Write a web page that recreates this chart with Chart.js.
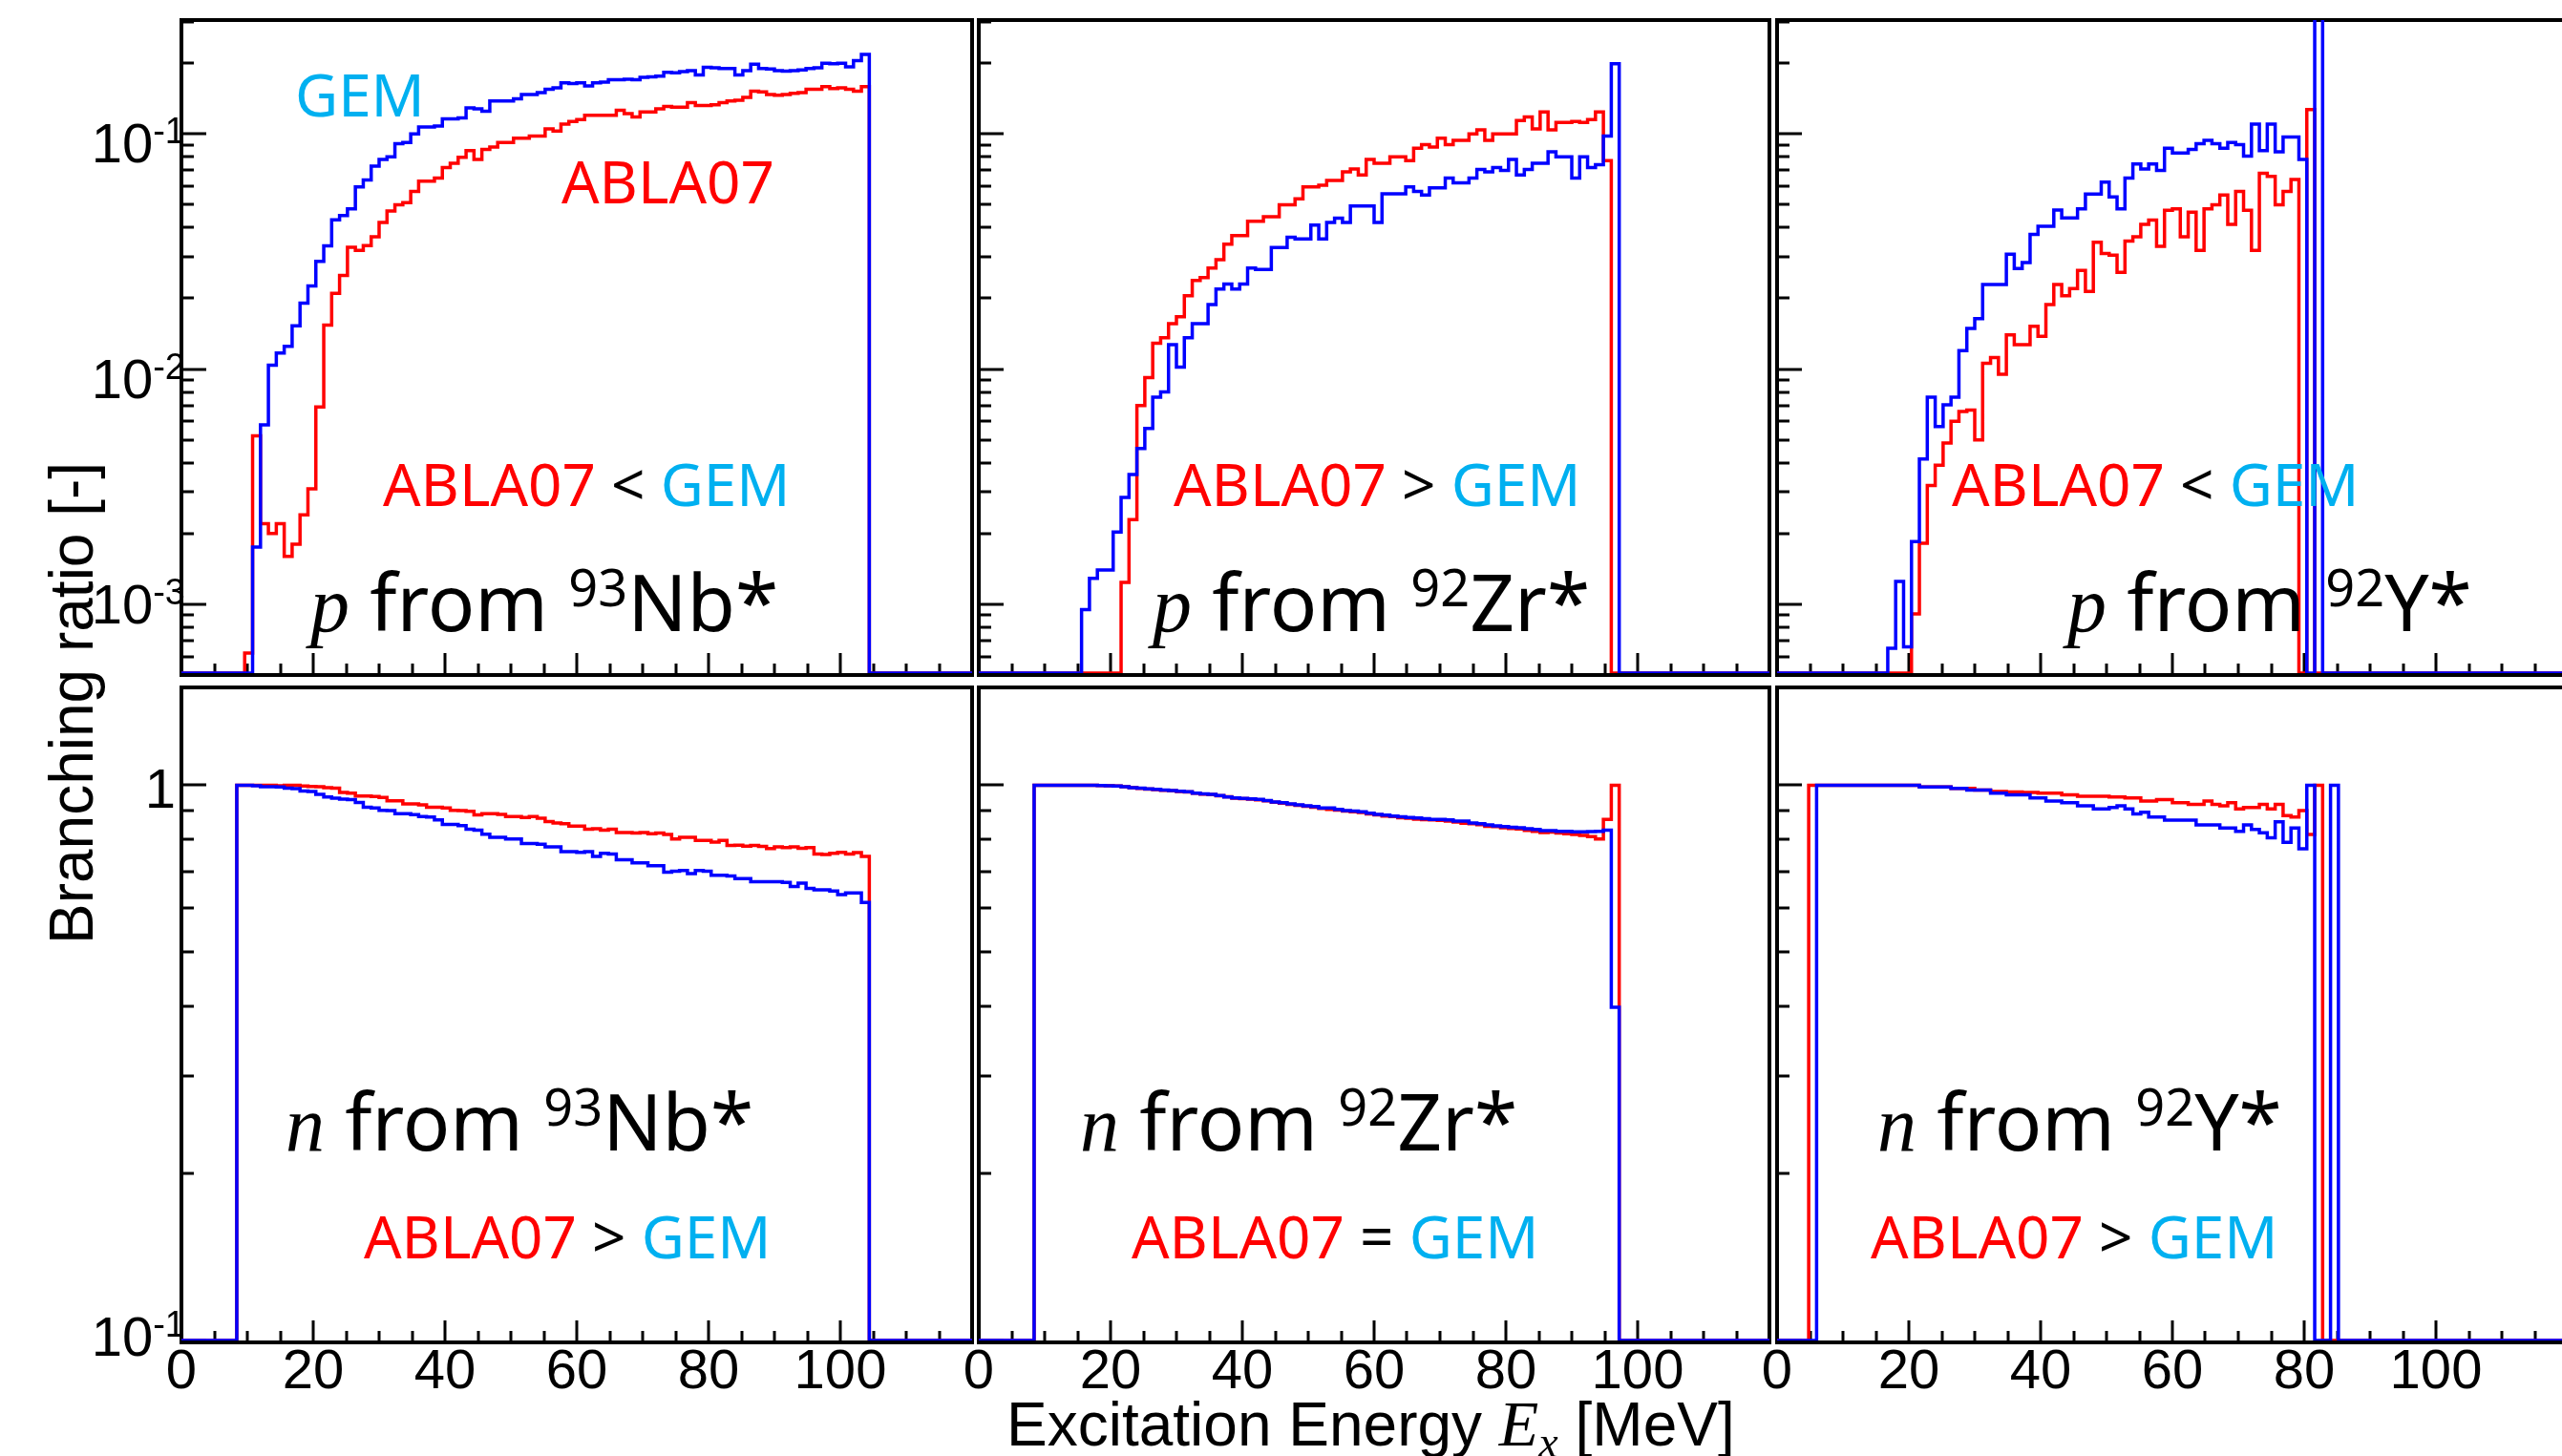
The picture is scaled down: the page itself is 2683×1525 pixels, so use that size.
<!DOCTYPE html>
<html>
<head>
<meta charset="utf-8">
<script src="https://cdn.jsdelivr.net/npm/chart.js@4.4.1/dist/chart.umd.min.js"></script>
<style>
  html, body { margin: 0; padding: 0; background: #fff; }
  #page { position: relative; width: 2683px; height: 1525px; overflow: hidden; background: #fff; }
  #page canvas { position: absolute; }
  #labels { position: absolute; left: 0; top: 0; }
  #labels text { white-space: pre; }
  .ann { font-family: "Noto Sans", "Open Sans", sans-serif; font-size: 62px; }
  .tag { font-family: "Noto Sans", "Open Sans", sans-serif; font-size: 82px; fill: #000; }
  .it { font-family: "Liberation Serif", "DejaVu Serif", serif; font-style: italic; }
  .axis { font-family: "Liberation Sans", Arial, sans-serif; font-size: 64px; fill: #000; }
  .red { fill: #ff0000; }
  .cyan { fill: #00b0f0; }
  .blk { fill: #000; }
</style>
</head>
<body>
<div id="page">
  <canvas id="pNb"></canvas>
  <canvas id="pZr"></canvas>
  <canvas id="pY"></canvas>
  <canvas id="nNb"></canvas>
  <canvas id="nZr"></canvas>
  <canvas id="nY"></canvas>

  <svg id="labels" width="2683" height="1525" xmlns="http://www.w3.org/2000/svg">
    <!-- top row: protons -->
    <text class="ann cyan" x="309" y="122">GEM</text>
    <text class="ann red" x="588" y="213">ABLA07</text>
    <text class="ann" x="401" y="530"><tspan class="red">ABLA07</tspan><tspan class="blk"> &lt; </tspan><tspan class="cyan">GEM</tspan></text>
    <text class="tag" x="325" y="661"><tspan class="it">p</tspan> from <tspan font-size="54" dy="-26">93</tspan><tspan dy="26">Nb*</tspan></text>

    <text class="ann" x="1229" y="530"><tspan class="red">ABLA07</tspan><tspan class="blk"> &gt; </tspan><tspan class="cyan">GEM</tspan></text>
    <text class="tag" x="1207" y="661"><tspan class="it">p</tspan> from <tspan font-size="54" dy="-26">92</tspan><tspan dy="26">Zr*</tspan></text>

    <text class="ann" x="2044" y="530"><tspan class="red">ABLA07</tspan><tspan class="blk"> &lt; </tspan><tspan class="cyan">GEM</tspan></text>
    <text class="tag" x="2165" y="661"><tspan class="it">p</tspan> from <tspan font-size="54" dy="-26">92</tspan><tspan dy="26">Y*</tspan></text>

    <!-- bottom row: neutrons -->
    <text class="tag" x="299" y="1205"><tspan class="it">n</tspan> from <tspan font-size="54" dy="-26">93</tspan><tspan dy="26">Nb*</tspan></text>
    <text class="ann" x="381" y="1318"><tspan class="red">ABLA07</tspan><tspan class="blk"> &gt; </tspan><tspan class="cyan">GEM</tspan></text>

    <text class="tag" x="1131" y="1205"><tspan class="it">n</tspan> from <tspan font-size="54" dy="-26">92</tspan><tspan dy="26">Zr*</tspan></text>
    <text class="ann" x="1185" y="1318"><tspan class="red">ABLA07</tspan><tspan class="blk"> = </tspan><tspan class="cyan">GEM</tspan></text>

    <text class="tag" x="1966" y="1205"><tspan class="it">n</tspan> from <tspan font-size="54" dy="-26">92</tspan><tspan dy="26">Y*</tspan></text>
    <text class="ann" x="1959" y="1318"><tspan class="red">ABLA07</tspan><tspan class="blk"> &gt; </tspan><tspan class="cyan">GEM</tspan></text>

    <!-- axis titles -->
    <text class="axis" x="1054" y="1514">Excitation Energy <tspan class="it" font-size="68">E</tspan><tspan class="it" font-size="46" dy="12">x</tspan><tspan dy="-12"> [MeV]</tspan></text>
    <text class="axis" transform="translate(97 989) rotate(-90)">Branching ratio [-]</text>
  </svg>
</div>

<script>
// histogram binning (MeV)
const BIN = 1.2;
const E_MIN = 0, E_MAX = 120;

// tick labels
const xTickLabels = [0, 20, 40, 60, 80, 100];
const pYTicks = [0.1, 0.01, 0.001];
const nYTicks = [1, 0.1];

// y ranges of the two rows
const pRange = [5.1e-4, 0.305];
const nRange = [0.1, 1.5];

// ---- p from 93Nb* ----
const pNbAblaStart = 9.6;
const pNbAbla = [
  6.2e-4, 5.2e-3, 2.2e-3, 2.0e-3, 2.2e-3, 1.6e-3, 1.8e-3, 2.4e-3, 3.1e-3, 6.9e-3,
  1.54e-2, 2.1e-2, 2.5e-2, 3.3e-2, 3.2e-2, 3.35e-2, 3.65e-2, 4.2e-2, 4.7e-2, 5.0e-2,
  5.1e-2, 5.7e-2, 6.3e-2, 6.3e-2, 6.5e-2, 7.2e-2, 7.5e-2, 7.95e-2, 8.5e-2, 7.8e-2,
  8.6e-2, 8.8e-2, 9.2e-2, 9.2e-2, 9.6e-2, 9.6e-2, 9.8e-2, 9.8e-2, 0.105, 0.103,
  0.110, 0.113, 0.115, 0.120, 0.120, 0.120, 0.120, 0.126, 0.122, 0.118,
  0.124, 0.124, 0.128, 0.131, 0.130, 0.130, 0.136, 0.132, 0.132, 0.133,
  0.136, 0.138, 0.139, 0.143, 0.152, 0.151, 0.147, 0.146, 0.147, 0.149,
  0.150, 0.155, 0.155, 0.159, 0.156, 0.157, 0.155, 0.152, 0.159
];
const pNbGemStart = 10.8;
const pNbGem = [
  1.75e-3, 5.8e-3, 1.04e-2, 1.17e-2, 1.25e-2, 1.53e-2, 1.91e-2, 2.26e-2, 2.87e-2, 3.34e-2,
  4.31e-2, 4.5e-2, 4.8e-2, 5.96e-2, 6.38e-2, 7.3e-2, 7.8e-2, 8.0e-2, 9.1e-2, 9.2e-2,
  0.100, 0.107, 0.107, 0.108, 0.116, 0.116, 0.117, 0.129, 0.128, 0.125,
  0.138, 0.138, 0.138, 0.141, 0.147, 0.147, 0.150, 0.155, 0.157, 0.165,
  0.164, 0.165, 0.160, 0.165, 0.166, 0.170, 0.170, 0.171, 0.170, 0.174,
  0.175, 0.176, 0.183, 0.182, 0.184, 0.186, 0.178, 0.192, 0.191, 0.190,
  0.190, 0.178, 0.186, 0.198, 0.190, 0.189, 0.186, 0.185, 0.186, 0.187,
  0.190, 0.191, 0.200, 0.199, 0.200, 0.193, 0.205, 0.218
];

// ---- p from 92Zr* ----
const pZrAblaStart = 21.6;
const pZrAbla = [
  1.24e-3, 2.29e-3, 7.0e-3, 9.2e-3, 1.29e-2, 1.36e-2, 1.56e-2, 1.67e-2, 2.05e-2, 2.38e-2,
  2.45e-2, 2.69e-2, 2.92e-2, 3.4e-2, 3.7e-2, 3.7e-2, 4.25e-2, 4.25e-2, 4.45e-2, 4.45e-2,
  5.0e-2, 5.0e-2, 5.3e-2, 5.96e-2, 5.96e-2, 6.05e-2, 6.35e-2, 6.35e-2, 6.9e-2, 7.1e-2,
  6.7e-2, 7.8e-2, 7.5e-2, 7.5e-2, 8.0e-2, 8.0e-2, 7.7e-2, 8.7e-2, 9.0e-2, 8.8e-2,
  9.6e-2, 9.0e-2, 9.4e-2, 9.4e-2, 0.100, 0.104, 0.094, 0.100, 0.100, 0.100,
  0.114, 0.118, 0.105, 0.124, 0.104, 0.112, 0.112, 0.113, 0.112, 0.115,
  0.124, 0.077
];
const pZrGemStart = 15.6;
const pZrGem = [
  9.5e-4, 1.29e-3, 1.40e-3, 1.40e-3, 2.03e-3, 2.85e-3, 3.56e-3, 4.6e-3, 5.6e-3, 7.6e-3,
  8.0e-3, 1.27e-2, 1.02e-2, 1.36e-2, 1.56e-2, 1.56e-2, 1.88e-2, 2.19e-2, 2.3e-2, 2.19e-2,
  2.3e-2, 2.69e-2, 2.65e-2, 2.65e-2, 3.29e-2, 3.29e-2, 3.64e-2, 3.58e-2, 3.58e-2, 4.1e-2,
  3.58e-2, 4.2e-2, 4.38e-2, 4.2e-2, 4.94e-2, 4.94e-2, 4.94e-2, 4.2e-2, 5.57e-2, 5.57e-2,
  5.57e-2, 5.96e-2, 5.7e-2, 5.5e-2, 5.9e-2, 5.9e-2, 6.5e-2, 6.2e-2, 6.2e-2, 6.5e-2,
  7.06e-2, 6.9e-2, 7.2e-2, 7.0e-2, 7.8e-2, 6.7e-2, 7.06e-2, 7.5e-2, 7.5e-2, 8.4e-2,
  8.0e-2, 8.0e-2, 6.5e-2, 8.0e-2, 7.2e-2, 7.4e-2, 9.8e-2, 0.199
];

// ---- p from 92Y* ----
const pYAblaStart = 20.4;
const pYAbla = [
  9.1e-4, 1.82e-3, 3.2e-3, 3.9e-3, 4.85e-3, 6.0e-3, 6.6e-3, 6.7e-3, 5.0e-3, 1.06e-2,
  1.12e-2, 9.5e-3, 1.4e-2, 1.27e-2, 1.27e-2, 1.52e-2, 1.38e-2, 1.88e-2, 2.29e-2, 2.05e-2,
  2.2e-2, 2.63e-2, 2.14e-2, 3.46e-2, 3.1e-2, 3.05e-2, 2.58e-2, 3.5e-2, 3.65e-2, 4.13e-2,
  4.3e-2, 3.33e-2, 4.74e-2, 4.8e-2, 3.65e-2, 4.65e-2, 3.2e-2, 4.8e-2, 5.0e-2, 5.5e-2,
  4.13e-2, 5.7e-2, 4.74e-2, 3.2e-2, 6.8e-2, 6.6e-2, 5.0e-2, 5.7e-2, 6.4e-2, 0,
  0.127
];
const pYGemStart = 16.8;
const pYGem = [
  6.5e-4, 1.25e-3, 6.6e-4, 1.85e-3, 4.15e-3, 7.6e-3, 5.7e-3, 7.05e-3, 7.6e-3, 1.2e-2,
  1.49e-2, 1.64e-2, 2.29e-2, 2.29e-2, 2.29e-2, 3.08e-2, 2.68e-2, 2.84e-2, 3.74e-2, 4.05e-2,
  4.05e-2, 4.75e-2, 4.4e-2, 4.4e-2, 4.8e-2, 5.55e-2, 5.55e-2, 6.24e-2, 5.4e-2, 4.8e-2,
  6.5e-2, 7.45e-2, 7.1e-2, 7.45e-2, 7.0e-2, 8.7e-2, 8.3e-2, 8.3e-2, 8.6e-2, 9.1e-2,
  9.4e-2, 9.1e-2, 8.7e-2, 9.2e-2, 9.0e-2, 8.05e-2, 0.110, 8.5e-2, 0.110, 8.4e-2,
  9.7e-2, 9.7e-2, 7.8e-2, 0, 1
];

// ---- n from 93Nb* ----
const nNbAblaStart = 8.4;
const nNbAbla = [
  1.0, 1.0, 1.0, 1.0, 1.0, 0.998, 1.0, 1.0, 0.997, 0.995,
  0.994, 0.990, 0.988, 0.970, 0.968, 0.956, 0.956, 0.954, 0.950, 0.937,
  0.937, 0.925, 0.925, 0.922, 0.913, 0.913, 0.910, 0.901, 0.900, 0.897,
  0.884, 0.889, 0.889, 0.886, 0.878, 0.878, 0.875, 0.878, 0.872, 0.860,
  0.855, 0.852, 0.844, 0.844, 0.833, 0.835, 0.830, 0.833, 0.822, 0.822,
  0.820, 0.822, 0.818, 0.820, 0.815, 0.800, 0.806, 0.806, 0.795, 0.795,
  0.790, 0.795, 0.779, 0.780, 0.777, 0.779, 0.776, 0.769, 0.774, 0.772,
  0.774, 0.770, 0.772, 0.752, 0.750, 0.754, 0.757, 0.752, 0.756, 0.744
];
const nNbGemStart = 8.4;
const nNbGem = [
  1.0, 1.0, 0.998, 0.994, 0.994, 0.993, 0.988, 0.986, 0.976, 0.974,
  0.963, 0.952, 0.948, 0.944, 0.942, 0.931, 0.913, 0.910, 0.901, 0.900,
  0.889, 0.889, 0.885, 0.878, 0.876, 0.866, 0.850, 0.850, 0.846, 0.833,
  0.830, 0.816, 0.806, 0.806, 0.800, 0.800, 0.785, 0.785, 0.783, 0.774,
  0.774, 0.759, 0.759, 0.757, 0.759, 0.744, 0.754, 0.752, 0.734, 0.734,
  0.725, 0.725, 0.716, 0.716, 0.697, 0.700, 0.702, 0.693, 0.702, 0.700,
  0.688, 0.688, 0.686, 0.679, 0.679, 0.670, 0.670, 0.670, 0.670, 0.668,
  0.657, 0.666, 0.652, 0.648, 0.648, 0.645, 0.635, 0.640, 0.640, 0.615
];

// ---- n from 92Zr* ----
const nZrAblaStart = 8.4;
const nZrAbla = [
  1.0, 1.0, 1.0, 1.0, 1.0, 1.0, 1.0, 1.0, 0.999, 0.998,
  0.997, 0.994, 0.990, 0.987, 0.984, 0.982, 0.979, 0.977, 0.974, 0.972,
  0.968, 0.964, 0.962, 0.957, 0.953, 0.948, 0.946, 0.944, 0.941, 0.937,
  0.932, 0.928, 0.924, 0.920, 0.916, 0.913, 0.908, 0.905, 0.902, 0.898,
  0.896, 0.893, 0.888, 0.884, 0.880, 0.878, 0.874, 0.872, 0.869, 0.867,
  0.866, 0.864, 0.862, 0.858, 0.854, 0.852, 0.849, 0.843, 0.842, 0.838,
  0.836, 0.834, 0.829, 0.826, 0.822, 0.823, 0.820, 0.818, 0.815, 0.812,
  0.808, 0.800, 0.868, 1.0
];
const nZrGemStart = 8.4;
const nZrGem = [
  1.0, 1.0, 1.0, 1.0, 1.0, 1.0, 1.0, 1.0, 0.999, 0.998,
  0.997, 0.994, 0.990, 0.988, 0.985, 0.983, 0.980, 0.978, 0.975, 0.973,
  0.968, 0.965, 0.963, 0.958, 0.952, 0.949, 0.947, 0.945, 0.943, 0.938,
  0.933, 0.930, 0.925, 0.922, 0.918, 0.915, 0.910, 0.910, 0.905, 0.900,
  0.898, 0.896, 0.890, 0.886, 0.883, 0.880, 0.877, 0.875, 0.873, 0.870,
  0.868, 0.868, 0.866, 0.862, 0.862, 0.855, 0.852, 0.848, 0.845, 0.842,
  0.840, 0.838, 0.835, 0.832, 0.828, 0.828, 0.826, 0.826, 0.824, 0.824,
  0.825, 0.826, 0.830, 0.398
];

// ---- n from 92Y* ----
const nYAblaStart = 4.8;
const nYAbla = [
  1.0, 1.0, 1.0, 1.0, 1.0, 1.0, 1.0, 1.0, 1.0, 1.0,
  1.0, 1.0, 1.0, 1.0, 0.993, 0.993, 0.993, 0.993, 0.987, 0.987,
  0.987, 0.980, 0.980, 0.974, 0.974, 0.972, 0.972, 0.970, 0.970, 0.968,
  0.968, 0.968, 0.961, 0.961, 0.955, 0.955, 0.955, 0.955, 0.952, 0.952,
  0.949, 0.949, 0.936, 0.936, 0.942, 0.942, 0.930, 0.930, 0.924, 0.924,
  0.936, 0.924, 0.918, 0.930, 0.906, 0.912, 0.912, 0.924, 0.906, 0.924,
  0.882, 0.876, 0.900, 0.815, 1.0
];
const nYGemStart = 6.0;
const nYGem = [
  1.0, 1.0, 1.0, 1.0, 1.0, 1.0, 1.0, 1.0, 1.0, 1.0,
  1.0, 1.0, 1.0, 0.993, 0.993, 0.993, 0.993, 0.987, 0.987, 0.980,
  0.980, 0.980, 0.968, 0.968, 0.961, 0.961, 0.961, 0.949, 0.949, 0.936,
  0.936, 0.930, 0.930, 0.918, 0.918, 0.906, 0.906, 0.912, 0.918, 0.906,
  0.888, 0.894, 0.876, 0.876, 0.865, 0.865, 0.865, 0.865, 0.848, 0.848,
  0.848, 0.837, 0.837, 0.826, 0.848, 0.832, 0.821, 0.804, 0.859, 0.789,
  0.837, 0.768, 1.0, 0, 0, 1.0
];

// ---------------- layout ----------------
const COL_X = [190, 1025, 1861];
const ROW_Y = [21, 720];
const FRAME_W = 828, FRAME_H = 684;
const TICK_FONT = '"Liberation Sans Narrow", "Liberation Sans", Arial, sans-serif';

// label baseline offsets (px below the tick) as in the original figure
const yLabelShift = { '0.1': 30, '0.01': 30, '0.001': 20 };
const yLabelShiftN = { '1': 24, '0.1': 16 };

const panels = [
  { id: 'pNb', col: 0, row: 0, range: pRange, abla: [pNbAblaStart, pNbAbla], gem: [pNbGemStart, pNbGem] },
  { id: 'pZr', col: 1, row: 0, range: pRange, abla: [pZrAblaStart, pZrAbla], gem: [pZrGemStart, pZrGem] },
  { id: 'pY',  col: 2, row: 0, range: pRange, abla: [pYAblaStart, pYAbla],   gem: [pYGemStart, pYGem] },
  { id: 'nNb', col: 0, row: 1, range: nRange, abla: [nNbAblaStart, nNbAbla], gem: [nNbGemStart, nNbGem] },
  { id: 'nZr', col: 1, row: 1, range: nRange, abla: [nZrAblaStart, nZrAbla], gem: [nZrGemStart, nZrGem] },
  { id: 'nY',  col: 2, row: 1, range: nRange, abla: [nYAblaStart, nYAbla],   gem: [nYGemStart, nYGem] }
];

// build a step outline: baseline -> bins -> baseline (empty bins sit on the axis floor)
function histPoints(start, values, floor) {
  const pts = [{ x: E_MIN, y: floor }];
  values.forEach((v, i) => {
    pts.push({ x: +(start + i * BIN).toFixed(3), y: v > 0 ? v : floor });
  });
  pts.push({ x: +(start + values.length * BIN).toFixed(3), y: floor });
  pts.push({ x: E_MAX, y: floor });
  return pts;
}

// ROOT-like frame with inward ticks and hand-placed labels
const rootFrame = {
  id: 'rootFrame',
  beforeDatasetsDraw(chart, args, opts) {
    const { ctx, chartArea: a } = chart;
    const x = chart.scales.x, y = chart.scales.y;
    ctx.save();
    ctx.strokeStyle = '#000';
    ctx.lineWidth = 3;
    ctx.beginPath();
    for (let e = E_MIN; e <= E_MAX; e += 5) {
      const px = Math.round(x.getPixelForValue(e));
      const len = e % 20 === 0 ? 21 : 10;
      ctx.moveTo(px, a.bottom);
      ctx.lineTo(px, a.bottom - len);
    }
    const lo = Math.floor(Math.log10(y.min)), hi = Math.ceil(Math.log10(y.max));
    for (let d = lo; d <= hi; d++) {
      for (let m = 1; m <= 9; m++) {
        const v = m * Math.pow(10, d);
        if (v < y.min * 0.999 || v > y.max) continue;
        const py = Math.round(y.getPixelForValue(v));
        ctx.moveTo(a.left, py);
        ctx.lineTo(a.left + (m === 1 ? 26 : 13), py);
      }
    }
    ctx.stroke();

    ctx.lineWidth = 4;
    ctx.strokeRect(a.left, a.top, a.right - a.left, a.bottom - a.top + 2);

    ctx.fillStyle = '#000';
    ctx.textBaseline = 'alphabetic';
    if (opts.xLabels) {
      ctx.font = '58px ' + TICK_FONT;
      ctx.textAlign = 'center';
      xTickLabels.forEach(e => ctx.fillText(String(e), x.getPixelForValue(e), a.bottom + 50));
    }
    if (opts.yTicks) {
      ctx.textAlign = 'right';
      opts.yTicks.forEach(v => {
        const py = y.getPixelForValue(v) + (opts.shift[String(v)] || 20);
        const exp = Math.round(Math.log10(v));
        if (exp === 0) {
          ctx.font = '58px ' + TICK_FONT;
          ctx.fillText('1', a.left - 6, py);
        } else {
          ctx.font = '38px ' + TICK_FONT;
          const sup = String(exp);
          const w = ctx.measureText(sup).width;
          ctx.fillText(sup, a.left + 4, py - 20);
          ctx.font = '58px ' + TICK_FONT;
          ctx.fillText('10', a.left + 4 - w, py);
        }
      });
    }
    ctx.restore();
  }
};

panels.forEach(p => {
  const fx = COL_X[p.col], fy = ROW_Y[p.row];
  const pad = {
    left: p.col === 0 ? fx : 40,
    right: 20,
    top: p.row === 0 ? fy : 10,
    bottom: p.row === 0 ? 8 : 70
  };
  const cv = document.getElementById(p.id);
  cv.width = FRAME_W + pad.left + pad.right;
  cv.height = FRAME_H + pad.top + pad.bottom;
  cv.style.left = (fx - pad.left) + 'px';
  cv.style.top = (fy - pad.top) + 'px';

  const floor = p.range[0];
  new Chart(cv, {
    type: 'line',
    data: {
      datasets: [
        {
          label: 'GEM',
          data: histPoints(p.gem[0], p.gem[1], floor),
          borderColor: '#0000ff',
          borderWidth: 3.5,
          stepped: true,
          pointRadius: 0,
          fill: false,
          borderJoinStyle: 'miter'
        },
        {
          label: 'ABLA07',
          data: histPoints(p.abla[0], p.abla[1], floor),
          borderColor: '#ff0000',
          borderWidth: 3.5,
          stepped: true,
          pointRadius: 0,
          fill: false,
          borderJoinStyle: 'miter'
        }
      ]
    },
    options: {
      responsive: false,
      animation: false,
      events: [],
      layout: { padding: pad },
      plugins: {
        legend: { display: false },
        tooltip: { enabled: false },
        rootFrame: {
          xLabels: p.row === 1,
          yTicks: p.col === 0 ? (p.row === 0 ? pYTicks : nYTicks) : null,
          shift: p.row === 0 ? yLabelShift : yLabelShiftN
        }
      },
      scales: {
        x: { type: 'linear', min: E_MIN, max: E_MAX, display: false },
        y: { type: 'logarithmic', min: p.range[0], max: p.range[1], display: false }
      }
    },
    plugins: [rootFrame]
  });
});
</script>
</body>
</html>
